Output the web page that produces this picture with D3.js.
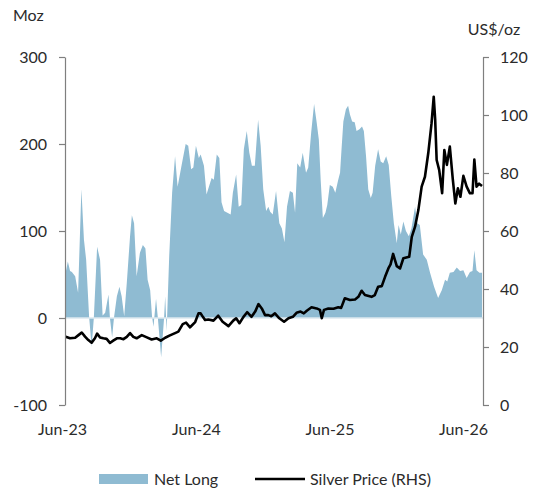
<!DOCTYPE html>
<meta charset="utf-8">
<style>
body { margin: 0; background: #fff; }
svg text { font-family: Lato, sans-serif; font-size: 16px; fill: #2b2b2b; }
.axis path, .axis line { stroke: #7f7f7f; stroke-width: 1.2; }
</style>
<svg width="545" height="494" id="svg"></svg>
<script src="https://d3js.org/d3.v7.min.js"></script>
<script>

// weekly-ish readings, net long in Moz
var netDates = ["2023-06-11","2023-06-17","2023-06-23","2023-06-28","2023-07-07","2023-07-15","2023-07-24","2023-07-31","2023-08-06","2023-08-14","2023-08-21","2023-08-27","2023-09-05","2023-09-13","2023-09-20","2023-09-27","2023-10-06","2023-10-10","2023-10-16","2023-10-21","2023-10-29","2023-11-05","2023-11-11","2023-11-18","2023-11-25","2023-12-04","2023-12-09","2023-12-15","2023-12-22","2023-12-31","2024-01-08","2024-01-15","2024-01-21","2024-01-28","2024-02-02","2024-02-06","2024-02-13","2024-02-18","2024-02-27","2024-03-06","2024-03-09","2024-03-13","2024-03-20","2024-03-28","2024-04-05","2024-04-12","2024-04-23","2024-05-04","2024-05-11","2024-05-19","2024-05-25","2024-06-01","2024-06-09","2024-06-14","2024-06-23","2024-06-30","2024-07-08","2024-07-14","2024-07-20","2024-07-28","2024-08-04","2024-08-10","2024-08-17","2024-08-26","2024-09-04","2024-09-10","2024-09-19","2024-09-26","2024-10-03","2024-10-10","2024-10-18","2024-10-25","2024-11-01","2024-11-09","2024-11-18","2024-11-25","2024-12-02","2024-12-10","2024-12-16","2024-12-21","2024-12-28","2025-01-06","2025-01-15","2025-01-22","2025-01-29","2025-02-05","2025-02-13","2025-02-21","2025-02-27","2025-03-05","2025-03-13","2025-03-20","2025-03-29","2025-04-04","2025-04-12","2025-04-20","2025-04-27","2025-05-03","2025-05-08","2025-05-14","2025-05-21","2025-05-26","2025-06-02","2025-06-10","2025-06-17","2025-06-25","2025-06-30","2025-07-04","2025-07-09","2025-07-16","2025-07-22","2025-07-27","2025-08-02","2025-08-09","2025-08-14","2025-08-22","2025-08-29","2025-09-03","2025-09-09","2025-09-15","2025-09-22","2025-09-27","2025-10-04","2025-10-12","2025-10-19","2025-10-26","2025-11-03","2025-11-10","2025-11-17","2025-11-24","2025-12-02","2025-12-07","2025-12-13","2025-12-20","2025-12-27","2026-01-04","2026-01-11","2026-01-21","2026-01-27","2026-02-03","2026-02-12","2026-02-22","2026-03-03","2026-03-14","2026-03-25","2026-04-04","2026-04-13","2026-04-19","2026-04-26","2026-05-06","2026-05-15","2026-05-24","2026-06-02","2026-06-11","2026-06-20","2026-06-27","2026-07-02","2026-07-08","2026-07-16","2026-07-23"];
var netLong = [52,65,54,53,48,29,148,90,67,2,-33,0,82,67,3,6,27,0,-22,0,25,36,25,2,40,94,118,109,48,75,84,80,44,32,2,-10,22,0,-45,0,25,-15,71,144,186,151,176,200,198,171,173,198,184,188,175,142,153,161,159,188,184,133,123,121,119,144,165,128,130,194,215,190,175,175,228,198,148,123,128,122,119,146,109,103,87,128,146,144,121,178,173,190,167,173,213,246,225,205,159,115,121,130,153,151,144,159,167,194,226,240,244,234,226,225,215,217,220,215,186,148,138,144,175,194,180,178,186,176,140,109,86,107,96,111,100,94,103,128,109,107,73,67,52,36,23,32,44,42,52,53,58,54,55,46,53,54,78,55,52,52];

// silver price, US$/oz
var priceDates = ["2023-06-11","2023-06-23","2023-07-07","2023-07-16","2023-07-25","2023-08-03","2023-08-12","2023-08-21","2023-08-30","2023-09-05","2023-09-13","2023-09-22","2023-10-01","2023-10-10","2023-10-19","2023-10-29","2023-11-07","2023-11-16","2023-11-25","2023-12-04","2023-12-13","2023-12-22","2024-01-05","2024-01-19","2024-02-01","2024-02-15","2024-02-26","2024-03-09","2024-03-22","2024-04-05","2024-04-14","2024-04-26","2024-05-05","2024-05-16","2024-05-30","2024-06-08","2024-06-14","2024-06-20","2024-06-26","2024-07-05","2024-07-19","2024-08-01","2024-08-13","2024-08-29","2024-09-11","2024-09-19","2024-09-28","2024-10-09","2024-10-19","2024-10-31","2024-11-10","2024-11-19","2024-11-28","2024-12-07","2024-12-16","2024-12-24","2025-01-03","2025-01-15","2025-01-28","2025-02-09","2025-02-21","2025-03-03","2025-03-14","2025-03-23","2025-03-31","2025-04-13","2025-04-27","2025-05-06","2025-05-11","2025-05-17","2025-05-29","2025-06-12","2025-06-25","2025-07-03","2025-07-13","2025-07-27","2025-08-10","2025-08-19","2025-08-28","2025-09-06","2025-09-24","2025-10-03","2025-10-12","2025-10-22","2025-10-31","2025-11-09","2025-11-15","2025-11-22","2025-12-02","2025-12-11","2025-12-20","2026-01-05","2026-01-12","2026-01-21","2026-01-30","2026-02-08","2026-02-17","2026-02-26","2026-03-07","2026-03-13","2026-03-17","2026-03-21","2026-03-28","2026-04-05","2026-04-11","2026-04-18","2026-04-26","2026-05-04","2026-05-11","2026-05-18","2026-05-25","2026-06-02","2026-06-11","2026-06-20","2026-06-27","2026-07-02","2026-07-08","2026-07-15","2026-07-23"];
var silverPrice = [23.5,23,23.2,24.1,25,23.6,22.4,21.5,23,24.6,23.3,23,22.8,21.4,22.2,23,23,22.7,23.5,24.8,23.5,23,24.1,23.3,22.6,23,22.2,23.2,24,24.8,25.3,27.9,28.4,26.8,28.6,31.6,31.6,30.4,29.3,29.5,29.1,30.8,28.7,27.2,29.1,29.9,28.2,30.4,32,30.4,32.2,34.8,33.3,31,31,30.6,31.6,29.9,28.7,29.9,30.4,31.8,32.2,31.6,32.5,33.7,33.3,32.8,29.9,32.8,33.3,33.2,33.7,33.5,36.8,36.2,36.4,37.3,39.4,37.9,37.3,37.9,40.8,41,44.2,47.1,48.5,52.1,47.9,47.1,50.6,51.1,58,61.5,67.2,75.3,78.7,86.8,97.1,106.3,98.3,84.5,81,73,87.9,82.8,89.1,78,69.5,74.7,71.8,79,75.3,73,73,84.6,75.3,76.3,75.5];

var xTicks = ["2023-06-01","2024-06-01","2025-06-01","2026-06-01"];
var leftTicks = [-100, 0, 100, 200, 300];
var rightTicks = [0, 20, 40, 60, 80, 100, 120];

var parse = d3.timeParse("%Y-%m-%d");
var areaColor = "#8fbbd2";

var svg = d3.select("svg");

var x = d3.scaleTime()
    .domain([parse("2023-06-01"), parse("2026-06-01")])
    .range([62, 463]);
var yL = d3.scaleLinear().domain([-100, 300]).range([405, 57]);
var yR = d3.scaleLinear().domain([0, 120]).range([405, 57]);

var netData = netDates.map(function(d, i) { return { date: parse(d), v: netLong[i] }; });
var priceData = priceDates.map(function(d, i) { return { date: parse(d), v: silverPrice[i] }; });

var area = d3.area()
    .x(function(d) { return x(d.date); })
    .y0(yL(0))
    .y1(function(d) { return yL(d.v); });

svg.append("path")
    .datum(netData)
    .attr("fill", areaColor)
    .attr("d", area);

// zero line
svg.append("line")
    .attr("x1", 65).attr("x2", 483)
    .attr("y1", yL(0)).attr("y2", yL(0))
    .attr("stroke", "#dce8ef")
    .attr("stroke-width", 1.5);

var line = d3.line()
    .x(function(d) { return x(d.date); })
    .y(function(d) { return yR(d.v); });

svg.append("path")
    .datum(priceData)
    .attr("fill", "none")
    .attr("stroke", "#000")
    .attr("stroke-width", 2.6)
    .attr("stroke-linejoin", "round")
    .attr("d", line);

function styleText(g) {
  g.selectAll("text").attr("fill", "#2b2b2b").style("font-size", "16px").style("font-family", "Lato, sans-serif");
}

// axes
svg.append("g")
    .attr("class", "axis")
    .attr("transform", "translate(65,0)")
    .call(d3.axisLeft(yL).tickValues(leftTicks).tickFormat(function(d) { return String(d); })
      .tickSize(6).tickSizeOuter(0).tickPadding(12))
    .call(styleText);

svg.append("g")
    .attr("class", "axis")
    .attr("transform", "translate(483,0)")
    .call(d3.axisRight(yR).tickValues(rightTicks).tickFormat(function(d) { return String(d); })
      .tickSize(6).tickSizeOuter(0).tickPadding(11))
    .call(styleText);

svg.append("g")
    .attr("transform", "translate(0,405)")
    .call(d3.axisBottom(x).tickValues(xTicks.map(parse)).tickFormat(d3.timeFormat("%b-%y")).tickSize(0).tickPadding(19))
    .call(function(g) { g.select(".domain").remove(); })
    .call(styleText);

// axis titles
svg.append("text").attr("x", 13).attr("y", 21).text("Moz");
svg.append("text").attr("x", 494).attr("y", 35).attr("text-anchor", "middle").text("US$/oz");

// legend
svg.append("rect")
    .attr("x", 99).attr("y", 474).attr("width", 49).attr("height", 10)
    .attr("fill", areaColor);
svg.append("text").attr("x", 154).attr("y", 485).text("Net Long");
svg.append("line")
    .attr("x1", 255).attr("x2", 305).attr("y1", 479).attr("y2", 479)
    .attr("stroke", "#000").attr("stroke-width", 2.5);
svg.append("text").attr("x", 310).attr("y", 485).text("Silver Price (RHS)");

</script>
